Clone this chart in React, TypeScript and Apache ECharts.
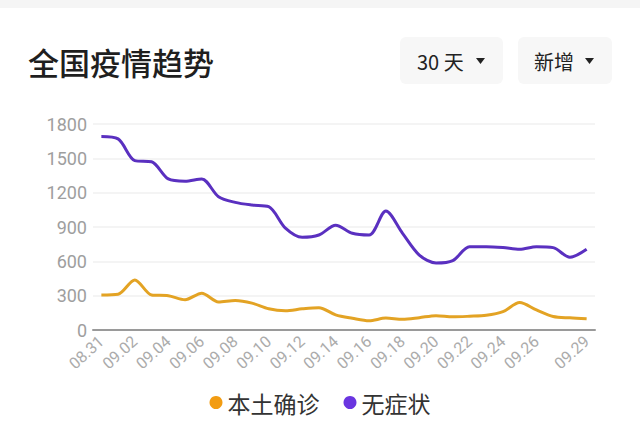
import React, { useEffect, useRef } from "react";
import * as echarts from "echarts";

const dates = [
  "08.31", "09.01", "09.02", "09.03", "09.04", "09.05", "09.06", "09.07", "09.08", "09.09",
  "09.10", "09.11", "09.12", "09.13", "09.14", "09.15", "09.16", "09.17", "09.18", "09.19",
  "09.20", "09.21", "09.22", "09.23", "09.24", "09.25", "09.26", "09.27", "09.28", "09.29",
];
const localConfirmed = [
  305, 312, 437, 306, 300, 265, 322, 245, 258, 235,
  185, 168, 185, 195, 132, 102, 80, 104, 94, 108,
  125, 115, 120, 128, 160, 240, 175, 118, 106, 98,
];
const asymptomatic = [
  1690, 1670, 1480, 1470, 1320, 1300, 1320, 1165, 1115, 1092,
  1078, 890, 810, 830, 915, 845, 830, 1040, 845, 655,
  585, 606, 728, 728, 720, 705, 728, 720, 635, 705,
];
const seriesNames = ["本土确诊", "无症状"];
const yTicks = { min: 0, max: 1800, interval: 300 };

const FONT = "'Noto Sans CJK SC', 'Noto Sans', Roboto, sans-serif";

export default function App() {
  const ref = useRef<HTMLDivElement>(null);
  useEffect(() => {
    document.body.style.margin = "0";
    const chart = echarts.init(ref.current!, null, { renderer: "svg" });
    const lastIdx = dates.length - 1;
    chart.setOption({
      animation: false,
      backgroundColor: "#ffffff",
      textStyle: { fontFamily: FONT },
      graphic: [
        { type: "rect", shape: { x: 0, y: 0, width: 640, height: 8 }, style: { fill: "#f5f5f5" } },
        {
          type: "text", x: 28, y: 61,
          style: { text: "全国疫情趋势", font: `500 31px ${FONT}`, fill: "#1f1f1f", textVerticalAlign: "middle" },
        },
        { type: "rect", shape: { x: 400, y: 37, width: 103, height: 47, r: 6 }, style: { fill: "#f7f7f7" } },
        {
          type: "text", x: 417, y: 61,
          style: { text: "30 天", font: `400 20px ${FONT}`, fill: "#222", textVerticalAlign: "middle" },
        },
        { type: "polygon", shape: { points: [[476, 58], [485, 58], [480.5, 64]] }, style: { fill: "#222" } },
        { type: "rect", shape: { x: 518, y: 37, width: 94, height: 47, r: 6 }, style: { fill: "#f7f7f7" } },
        {
          type: "text", x: 534, y: 61,
          style: { text: "新增", font: `400 20px ${FONT}`, fill: "#222", textVerticalAlign: "middle" },
        },
        { type: "polygon", shape: { points: [[585, 58], [594, 58], [589.5, 64]] }, style: { fill: "#222" } },
      ],
      grid: { left: 93, right: 45, top: 124, bottom: 96, containLabel: false },
      legend: {
        data: seriesNames,
        bottom: 7,
        left: "center",
        icon: "circle",
        itemWidth: 13,
        itemHeight: 13,
        itemGap: 24,
        textStyle: { fontSize: 23, color: "#333", fontFamily: FONT },
      },
      xAxis: {
        type: "category",
        data: dates,
        boundaryGap: true,
        axisLine: { lineStyle: { color: "#9a9a9a", width: 2 } },
        axisTick: { show: false },
        axisLabel: {
          rotate: 42,
          color: "#ababab",
          fontSize: 16,
          fontFamily: "Roboto, sans-serif",
          margin: 9,
          interval: (i: number) => (i % 2 === 0 && i <= 26) || i === lastIdx,
        },
      },
      yAxis: {
        type: "value",
        min: yTicks.min,
        max: yTicks.max,
        interval: yTicks.interval,
        axisLine: { show: false },
        axisTick: { show: false },
        axisLabel: {
          color: "#9e9e9e",
          fontSize: 18,
          margin: 6,
          fontFamily: "Roboto, sans-serif",
          formatter: (v: number) => String(v),
        },
        splitLine: { lineStyle: { color: "#f0f0f0", width: 1.5 } },
      },
      series: [
        {
          name: seriesNames[0],
          type: "line",
          data: localConfirmed,
          smooth: 0.3,
          showSymbol: false,
          symbol: "none",
          color: "#f29c12",
          lineStyle: { color: "#e3a324", width: 3 },
        },
        {
          name: seriesNames[1],
          type: "line",
          data: asymptomatic,
          smooth: 0.3,
          showSymbol: false,
          symbol: "none",
          color: "#6a35e0",
          lineStyle: { color: "#5a30c0", width: 3 },
        },
      ],
    });
    return () => chart.dispose();
  }, []);
  return <div ref={ref} style={{ position: "fixed", left: 0, top: 0, width: 640, height: 426 }} />;
}
